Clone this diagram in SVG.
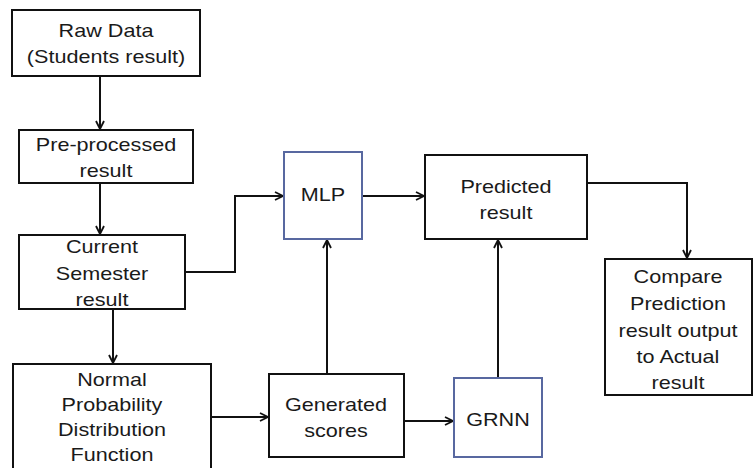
<svg xmlns="http://www.w3.org/2000/svg" width="755" height="468" viewBox="0 0 755 468">
<defs>
<marker id="arr" viewBox="0 0 10 10" refX="9" refY="5" markerWidth="10" markerHeight="10" markerUnits="userSpaceOnUse" orient="auto">
<path d="M1,1 L9,5 L1,9" fill="none" stroke="#111" stroke-width="1.8"/>
</marker>
<style>
.box{fill:#fff;stroke:#111;stroke-width:2}
.blue{fill:#fff;stroke:#5868a0;stroke-width:2}
.t{font-family:"Liberation Sans",Arial,sans-serif;font-size:18px;fill:#1a1a1a;text-anchor:middle}
.c{fill:none;stroke:#111;stroke-width:2}
</style>
</defs>
<rect width="755" height="468" fill="#fff"/>
<g id="connectors">
<path class="c" d="M100,76 V129" marker-end="url(#arr)"/>
<path class="c" d="M100,183 V234" marker-end="url(#arr)"/>
<path class="c" d="M113,309 V363" marker-end="url(#arr)"/>
<path class="c" d="M185,272 H235 V196 H283" marker-end="url(#arr)"/>
<path class="c" d="M362,196 H424" marker-end="url(#arr)"/>
<path class="c" d="M587,183 H687 V258" marker-end="url(#arr)"/>
<path class="c" d="M211,417 H268" marker-end="url(#arr)"/>
<path class="c" d="M327,374 V240" marker-end="url(#arr)"/>
<path class="c" d="M404,421 H453" marker-end="url(#arr)"/>
<path class="c" d="M498,378 V240" marker-end="url(#arr)"/>
</g>
<g id="raw">
<rect class="box" x="12" y="10" width="188" height="66"/>
<g transform="translate(106,0) scale(1.2,1)"><text class="t" x="0" y="37">Raw Data</text><text class="t" x="0" y="63">(Students result)</text></g>
</g>
<g id="pre">
<rect class="box" x="19" y="130" width="174" height="53"/>
<g transform="translate(106,0) scale(1.2,1)"><text class="t" x="0" y="151">Pre-processed</text><text class="t" x="0" y="177">result</text></g>
</g>
<g id="current">
<rect class="box" x="19" y="235" width="166" height="74"/>
<g transform="translate(102,0) scale(1.2,1)"><text class="t" x="0" y="253">Current</text><text class="t" x="0" y="280">Semester</text><text class="t" x="0" y="306">result</text></g>
</g>
<g id="normal">
<rect class="box" x="13" y="364" width="198" height="112"/>
<g transform="translate(112,0) scale(1.2,1)"><text class="t" x="0" y="386">Normal</text><text class="t" x="0" y="411">Probability</text><text class="t" x="0" y="436">Distribution</text><text class="t" x="0" y="461">Function</text></g>
</g>
<g id="mlp">
<rect class="blue" x="284" y="152" width="78" height="87"/>
<g transform="translate(323,0) scale(1.2,1)"><text class="t" x="0" y="201">MLP</text></g>
</g>
<g id="predicted">
<rect class="box" x="425" y="155" width="162" height="84"/>
<g transform="translate(506,0) scale(1.2,1)"><text class="t" x="0" y="193">Predicted</text><text class="t" x="0" y="219">result</text></g>
</g>
<g id="compare">
<rect class="box" x="605" y="259" width="147" height="136"/>
<g transform="translate(678,0) scale(1.2,1)"><text class="t" x="0" y="283">Compare</text><text class="t" x="0" y="310">Prediction</text><text class="t" x="0" y="337">result output</text><text class="t" x="0" y="363">to Actual</text><text class="t" x="0" y="389">result</text></g>
</g>
<g id="generated">
<rect class="box" x="269" y="374" width="135" height="83"/>
<g transform="translate(336,0) scale(1.2,1)"><text class="t" x="0" y="411">Generated</text><text class="t" x="0" y="437">scores</text></g>
</g>
<g id="grnn">
<rect class="blue" x="454" y="378" width="88" height="79"/>
<g transform="translate(498,0) scale(1.2,1)"><text class="t" x="0" y="426">GRNN</text></g>
</g>
</svg>
